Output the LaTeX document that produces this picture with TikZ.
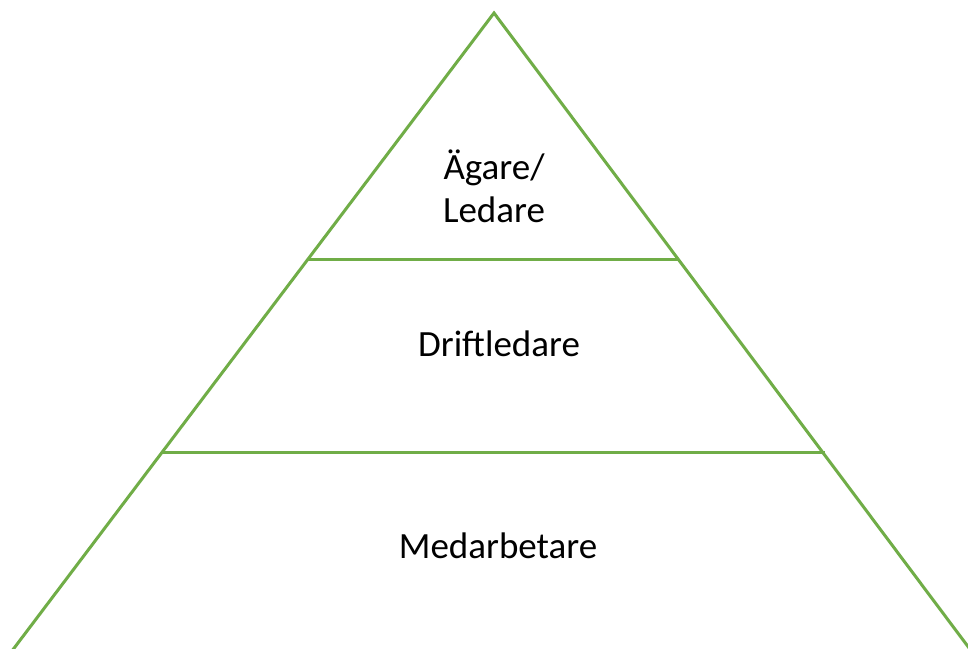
\documentclass[tikz,border=0pt]{standalone}
\usepackage{fontspec}
\setmainfont{Carlito}
\definecolor{pyrgreen}{HTML}{70AD47}
\begin{document}
\begin{tikzpicture}[x=1pt,y=-1pt,
  edge/.style={draw=pyrgreen,line width=3pt},
  label/.style={font=\fontsize{37}{43}\selectfont,align=center,inner sep=0pt,text=black}]
\useasboundingbox (0,0) rectangle (968,648);
\fill[white] (0,0) rectangle (968,648);
\begin{scope}
\clip (0,0) rectangle (968,648);
\coordinate (apex) at (494,13);
\coordinate (bl) at (-10,680);
\coordinate (br) at (993,680);
\draw[edge,line join=miter] (bl) -- (apex) -- (br);
\coordinate (l1) at (308,259);
\coordinate (r1) at (679,259);
\coordinate (l2) at (162,452);
\coordinate (r2) at (825,452);
\draw[edge] (l1) -- (r1);
\draw[edge] (l2) -- (r2);
\end{scope}
\node[label] (top) at (494,186) {Ägare/\\Ledare};
\node[label] (mid) at (499,344) {Driftledare};
\node[label] (bot) at (498,546) {Medarbetare};
\end{tikzpicture}
\end{document}
